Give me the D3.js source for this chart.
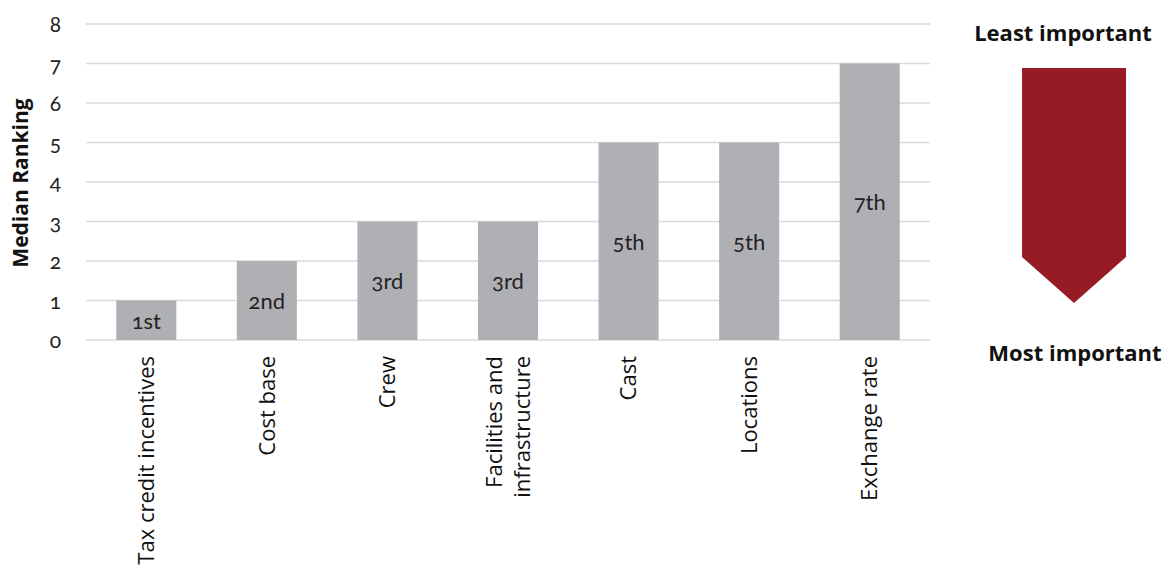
<!DOCTYPE html>
<html>
<head>
<meta charset="utf-8">
<script src="https://cdn.jsdelivr.net/npm/d3@7"></script>
<style>
  html, body { margin: 0; padding: 0; background: #fff; }
  svg { display: block; }
  .num { font-variant-numeric: oldstyle-nums; font-feature-settings: "onum" 1; }
</style>
</head>
<body>
<div id="chart"></div>
<script>
const categories = ["Tax credit incentives", "Cost base", "Crew", "Facilities and infrastructure", "Cast", "Locations", "Exchange rate"];
const categoryLines = [["Tax credit incentives"], ["Cost base"], ["Crew"], ["Facilities and", "infrastructure"], ["Cast"], ["Locations"], ["Exchange rate"]];
const medianRanking = [1, 2, 3, 3, 5, 5, 7];
const rankLabels = ["1st", "2nd", "3rd", "3rd", "5th", "5th", "7th"];
const yTicks = [0, 1, 2, 3, 4, 5, 6, 7, 8];
const yTitle = "Median Ranking";
const topNote = "Least important";
const bottomNote = "Most important";

const W = 1175, H = 567;
const svg = d3.select("#chart").append("svg").attr("width", W).attr("height", H);

const x = d3.scaleBand().domain(categories).range([86, 930]).paddingInner(0.502).paddingOuter(0.251);
const y = d3.scaleLinear().domain([0, 8]).range([340, 24]);

// gridlines
svg.append("g").selectAll("line").data(yTicks).join("line")
  .attr("x1", 86).attr("x2", 930)
  .attr("y1", d => y(d)).attr("y2", d => y(d))
  .attr("stroke", "#d9d9d9").attr("stroke-width", 1.5);

// y axis labels
const yAxis = d3.axisLeft(y).tickValues(yTicks).tickSize(0).tickPadding(0);
const yg = svg.append("g").attr("transform", "translate(61,0)").call(yAxis);
yg.select(".domain").remove();
yg.selectAll("text").attr("class", "num").attr("dy", "0.36em")
  .style("font-family", "'Lato', 'Open Sans', sans-serif").style("font-size", "21px").attr("fill", "#222");

// bars
svg.append("g").selectAll("rect").data(categories).join("rect")
  .attr("x", d => x(d)).attr("width", x.bandwidth())
  .attr("y", (d, i) => y(medianRanking[i]))
  .attr("height", (d, i) => y(0) - y(medianRanking[i]))
  .attr("fill", "#afb0b4");

// data labels
svg.append("g").selectAll("text").data(categories).join("text")
  .attr("class", "num")
  .attr("x", d => x(d) + x.bandwidth() / 2)
  .attr("y", (d, i) => (y(medianRanking[i]) + y(0)) / 2)
  .attr("dy", "0.38em")
  .attr("text-anchor", "middle")
  .style("font-family", "'Lato', 'Open Sans', sans-serif").style("font-size", "22px").attr("fill", "#222")
  .text((d, i) => rankLabels[i]);

// x category labels (rotated)
const xl = svg.append("g").selectAll("text").data(categories).join("text")
  .attr("transform", d => `translate(${x(d) + x.bandwidth() / 2},356) rotate(-90)`)
  .attr("text-anchor", "end")
  .style("font-family", "'Open Sans', sans-serif").style("font-size", "22px").attr("fill", "#111");
xl.each(function(d, i) {
  const lines = categoryLines[i];
  const t = d3.select(this);
  const lh = 28;
  lines.forEach((ln, j) => {
    t.append("tspan").attr("x", 0)
      .attr("y", (j - (lines.length - 1) / 2) * lh)
      .attr("dy", "0.35em").text(ln);
  });
});

// y title
svg.append("text")
  .attr("transform", "translate(21,183) rotate(-90)")
  .attr("text-anchor", "middle").attr("dy", "0.35em")
  .style("font-family", "'Open Sans', sans-serif").style("font-size", "21px").style("font-weight", "bold")
  .attr("fill", "#111").text(yTitle);

// arrow
svg.append("path")
  .attr("d", d3.line()([[1022, 68], [1126, 68], [1126, 257], [1074, 303], [1022, 257]]) + "Z")
  .attr("fill", "#961b24");

svg.append("text").attr("x", 1063).attr("y", 33).attr("dy", "0.35em").attr("text-anchor", "middle")
  .style("font-family", "'Open Sans', sans-serif").style("font-size", "22px").style("font-weight", "bold")
  .attr("fill", "#111").text(topNote);
svg.append("text").attr("x", 1075).attr("y", 353).attr("dy", "0.35em").attr("text-anchor", "middle")
  .style("font-family", "'Open Sans', sans-serif").style("font-size", "22px").style("font-weight", "bold")
  .attr("fill", "#111").text(bottomNote);
</script>
</body>
</html>
